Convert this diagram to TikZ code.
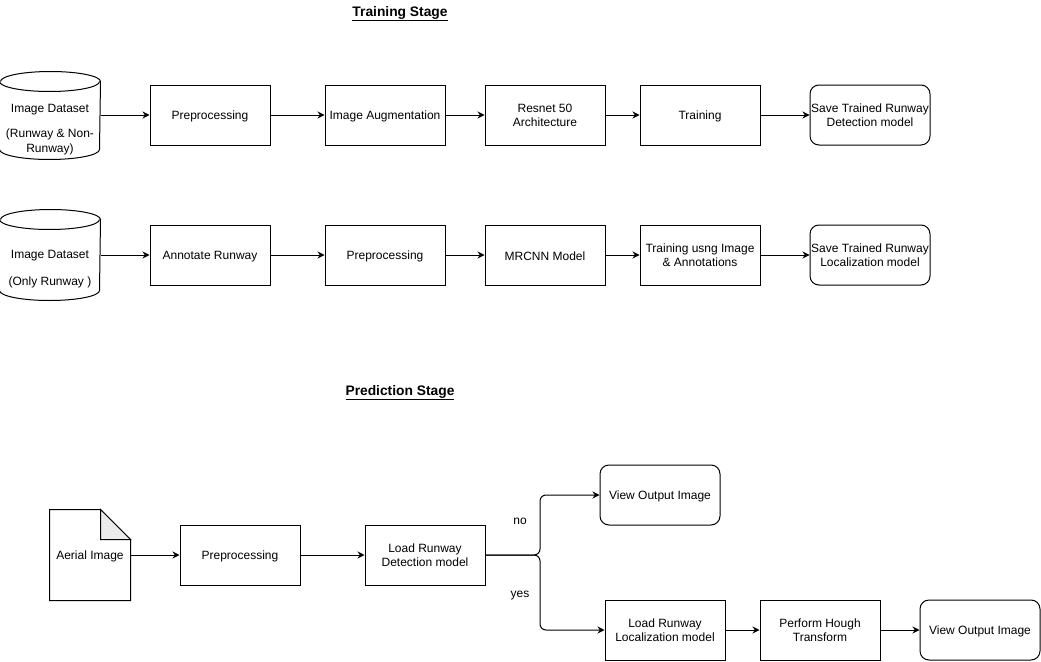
\documentclass[tikz,border=0pt]{standalone}
\usepackage{fontspec}
\setmainfont{Liberation Sans}
\usetikzlibrary{arrows.meta,calc}
\begin{document}
\begin{tikzpicture}[x=1pt,y=-1pt,line width=1pt,
  every node/.style={font=\fontsize{12}{14}\selectfont},
  box/.style={draw,minimum width=120pt,minimum height=60pt,align=center,inner sep=1pt,
    execute at begin node={\vrule height 12pt depth 2pt width 0pt}},
  mbox/.style={draw,minimum width=120pt,minimum height=60pt,align=center,inner sep=1pt,
    execute at begin node={\vrule height 16pt depth 0pt width 0pt}},
  rbox/.style={mbox,rounded corners=9pt},
  plain/.style={inner sep=0pt},
  arr/.style={-{Stealth[length=7pt,width=7pt]}},
  ttl/.style={font=\fontsize{13.8}{16}\selectfont\bfseries}]
\useasboundingbox (0,0) rectangle (1041,661);
\fill[white] (0,0) rectangle (1041,661);

% titles
\node[ttl] (t1) at (400,13.5) {\underline{Training Stage}};
\node[ttl] (t2) at (400,392.5) {\underline{Prediction Stage}};

% cylinders
\node[minimum width=100pt,minimum height=87pt,inner sep=0pt] (db1) at (50,115.5) {};
\node[minimum width=100pt,minimum height=90pt,inner sep=0pt] (db2) at (50,255) {};
\draw ($(db1.north west)+(0,10)$) -- ($(db1.south west)+(0,-10)$)
   arc[start angle=180,end angle=360,x radius=50pt,y radius=10pt]
   -- ($(db1.north east)+(0,10)$) arc[start angle=0,end angle=180,x radius=50pt,y radius=10pt];
\draw ($(db1.north west)+(0,10)$) arc[start angle=180,end angle=360,x radius=50pt,y radius=10pt];
\draw ($(db2.north west)+(0,10)$) -- ($(db2.south west)+(0,-10)$)
   arc[start angle=180,end angle=360,x radius=50pt,y radius=10pt]
   -- ($(db2.north east)+(0,10)$) arc[start angle=0,end angle=180,x radius=50pt,y radius=10pt];
\draw ($(db2.north west)+(0,10)$) arc[start angle=180,end angle=360,x radius=50pt,y radius=10pt];
\node[plain] (db1a) at (50,110) {Image Dataset};
\node[plain] (db1b) at (50,134.5) {(Runway \& Non-};
\node[plain] (db1c) at (50,149.5) {Runway)};
\node[plain] (db2a) at (50,256) {Image Dataset};
\node[plain] (db2b) at (50,282.5) {(Only Runway )};

% row 1
\node[box] (p1) at (210,115) {Preprocessing};
\node[box] (aug) at (385,115) {Image Augmentation};
\node[mbox] (res) at (545,115) {Resnet 50\\Architecture};
\node[box] (tr1) at (700,115) {Training};
\node[rbox] (s1) at (870,115) {Save Trained Runway\\Detection model};
\draw[arr] (db1.east |- p1.west) -- (p1.west);
\draw[arr] (p1) -- (aug);
\draw[arr] (aug) -- (res);
\draw[arr] (res) -- (tr1);
\draw[arr] (tr1) -- (s1);

% row 2
\node[box] (ann) at (210,255) {Annotate Runway};
\node[box] (p2) at (385,255) {Preprocessing};
\node[box] (mr) at (545,255) {MRCNN Model};
\node[mbox] (tr2) at (700,255) {Training usng Image\\\& Annotations};
\node[rbox] (s2) at (870,255) {Save Trained Runway\\Localization model};
\draw[arr] (db2.east) -- (ann.west);
\draw[arr] (ann) -- (p2);
\draw[arr] (p2) -- (mr);
\draw[arr] (mr) -- (tr2);
\draw[arr] (tr2) -- (s2);

% prediction
\node[minimum width=80pt,minimum height=90pt,inner sep=0pt] (doc) at (90,555) {\vrule height 12pt depth 2pt width 0pt Aerial Image};
\draw (doc.north west) -- ($(doc.north east)+(-30,0)$) -- ($(doc.north east)+(0,30)$) -- (doc.south east) -- (doc.south west) -- cycle;
\draw[fill=black!8] ($(doc.north east)+(-30,0)$) -- ($(doc.north east)+(-30,30)$) -- ($(doc.north east)+(0,30)$) -- cycle;
\node[box] (p3) at (240,555) {Preprocessing};
\node[mbox] (det) at (425,555) {Load Runway\\Detection model};
\node[box,rounded corners=9pt] (v1) at (660,495) {View Output Image};
\node[mbox] (loc) at (665,630) {Load Runway\\Localization model};
\node[mbox] (hough) at (820,630) {Perform Hough\\Transform};
\node[box,rounded corners=9pt] (v2) at (980,630) {View Output Image};
\coordinate (split) at (540,555);
\draw[arr] (doc.east) -- (p3.west);
\draw[arr] (p3) -- (det);
\draw[arr,rounded corners=6pt] (det.east) -| (split |- v1.west) -- (v1.west);
\draw[arr,rounded corners=6pt] (det.east) -| (split |- loc.west) -- (loc.west);
\draw[arr] (loc) -- (hough);
\draw[arr] (hough) -- (v2);
\node[plain] (no) at (520,521) {no};
\node[plain] (yes) at (520,596) {yes};
\end{tikzpicture}
\end{document}
